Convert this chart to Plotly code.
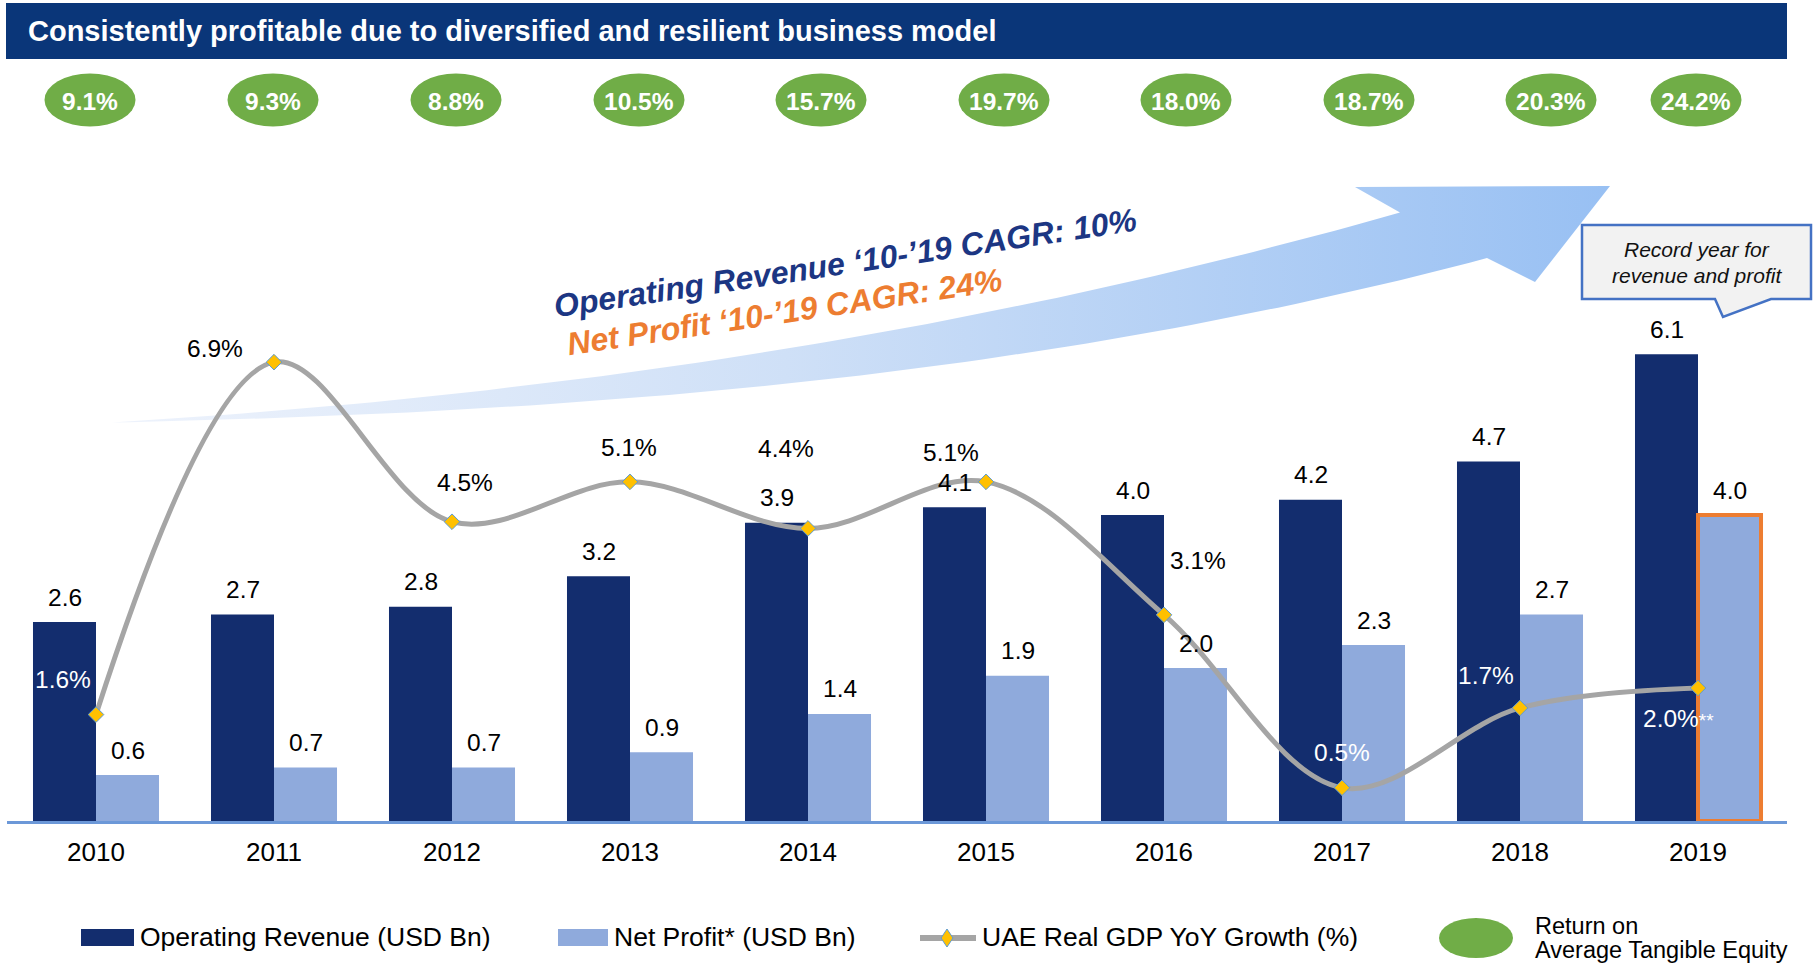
import numpy as np
import plotly.graph_objects as go

# ---------------- data ----------------
years = ["2010", "2011", "2012", "2013", "2014", "2015", "2016", "2017", "2018", "2019"]
operating_revenue = [2.6, 2.7, 2.8, 3.2, 3.9, 4.1, 4.0, 4.2, 4.7, 6.1]
net_profit = [0.6, 0.7, 0.7, 0.9, 1.4, 1.9, 2.0, 2.3, 2.7, 4.0]
uae_gdp_growth = [1.6, 6.9, 4.5, 5.1, 4.4, 5.1, 3.1, 0.5, 1.7, 2.0]
roate = [9.1, 9.3, 8.8, 10.5, 15.7, 19.7, 18.0, 18.7, 20.3, 24.2]

title_text = "Consistently profitable due to diversified and resilient business model"
cagr_revenue_text = "Operating Revenue \u201810-\u201919 CAGR: 10%"
cagr_profit_text = "Net Profit \u201810-\u201919 CAGR: 24%"
callout_lines = ["Record year for", "revenue and profit"]
legend_labels = ["Operating Revenue (USD Bn)", "Net Profit* (USD Bn)",
                 "UAE Real GDP YoY Growth (%)", "Return on", "Average Tangible Equity"]

# ---------------- layout constants (pixels) ----------------
W, H = 1814, 964
PL, PR, PT, PB = 7, 1787, 120, 821          # plot area bounds in page pixels
BAR_PX_PER_UNIT = 76.5
GDP_PX_PER_UNIT = 66.5
FONT = "Liberation Sans, Arial, sans-serif"

NAVY = "#132D6E"
LIGHT = "#8FAADC"
GREEN = "#70AD47"
ORANGE = "#ED7D31"
GRAY = "#A5A5A5"

def px(x):
    return (x - PL) / (PR - PL)

def py(y):
    return (PB - y) / (PB - PT)

# badge centres (pixels) for the ROATE ellipses
badge_x_px = [90, 273, 456, 639, 821, 1004, 1186, 1369, 1551, 1696]
badge_y_px = 100
# GDP label offsets (dx, dy in screen px) and colours
gdp_label_offsets = [(-33, -35), (-59, -14), (13, -39), (-1, -34), (-22, -80),
                     (-35, -29), (34, -54), (0, -35), (-34, -32), (-20, 30)]
gdp_label_white = [True, False, False, False, False, False, False, True, True, True]

fig = go.Figure()

# ---------------- background arrow (base subplot, pixel space) ----------------
up_pts = np.array([(112, 422), (350, 405), (580, 380), (820, 340), (1080, 295), (1300, 240), (1400, 212)])
lo_pts = np.array([(112, 422), (350, 416), (570, 404), (820, 377), (1080, 345), (1300, 305), (1487, 257)])
cu = np.polyfit(up_pts[:, 0], up_pts[:, 1], 3)
cl = np.polyfit(lo_pts[:, 0], lo_pts[:, 1], 3)
xu = np.linspace(112, 1400, 80)
xl = np.linspace(1487, 112, 80)
ax_x = list(xu) + [1355, 1610, 1535] + list(xl)
ax_y = list(np.polyval(cu, xu)) + [187, 186, 282] + list(np.polyval(cl, xl))
fig.add_trace(go.Scatter(
    x=ax_x, y=ax_y, xaxis="x", yaxis="y", mode="lines", fill="toself",
    line=dict(width=0, color="rgba(0,0,0,0)"),
    fillgradient=dict(type="horizontal",
                      colorscale=[[0, "#EEF3FC"], [0.45, "#CFE0F7"], [1, "#98C0F3"]]),
    hoverinfo="skip", showlegend=False))

# ---------------- bars ----------------
fig.add_trace(go.Bar(
    x=years, y=operating_revenue, xaxis="x2", yaxis="y2", name=legend_labels[0],
    marker=dict(color=NAVY, line=dict(width=0)), showlegend=False))
fig.add_trace(go.Bar(
    x=years, y=net_profit, xaxis="x2", yaxis="y2", name=legend_labels[1],
    marker=dict(color=LIGHT,
                line=dict(color=["rgba(0,0,0,0)"] * (len(years) - 1) + [ORANGE],
                          width=[0] * (len(years) - 1) + [4])),
    showlegend=False))

# ---------------- GDP line ----------------
fig.add_trace(go.Scatter(
    x=years, y=uae_gdp_growth, xaxis="x2", yaxis="y3", name=legend_labels[2],
    mode="lines+markers", line=dict(color=GRAY, width=5, shape="spline", smoothing=1.0),
    marker=dict(symbol="diamond", size=12, color="#FFC000", line=dict(color="#5B9BD5", width=1)),
    showlegend=False))

annotations = []
shapes = []

# bar value labels (x given as category index)
for i, v in enumerate(operating_revenue):
    annotations.append(dict(x=i, y=v, xref="x2", yref="y2", text=f"{v:.1f}", showarrow=False,
                            xshift=-31.5, yshift=25, yanchor="middle",
                            font=dict(family=FONT, size=24.5, color="#000000")))
for i, v in enumerate(net_profit):
    annotations.append(dict(x=i, y=v, xref="x2", yref="y2", text=f"{v:.1f}", showarrow=False,
                            xshift=31.5, yshift=25, yanchor="middle",
                            font=dict(family=FONT, size=24.5, color="#000000")))

# GDP labels
for i, v in enumerate(uae_gdp_growth):
    dx, dy = gdp_label_offsets[i]
    txt = f"{v:.1f}%"
    if i == len(years) - 1:
        txt += "<span style='font-size:19px'>**</span>"
    annotations.append(dict(x=i, y=v, xref="x2", yref="y3", text=txt, showarrow=False,
                            xshift=dx, yshift=-dy, yanchor="middle",
                            font=dict(family=FONT, size=24.5,
                                      color="#FFFFFF" if gdp_label_white[i] else "#000000")))

# title bar
shapes.append(dict(type="rect", xref="paper", yref="paper", x0=px(6), x1=px(1787),
                   y0=py(59), y1=py(3), fillcolor="#0A3679", line=dict(width=0), layer="above"))
annotations.append(dict(x=px(26), y=py(31), xref="paper", yref="paper", text=title_text,
                        showarrow=False, xanchor="left", yanchor="middle",
                        font=dict(family=FONT, size=29, color="#FFFFFF", weight="bold")))

# ROATE badges
for cx, v in zip(badge_x_px, roate):
    shapes.append(dict(type="circle", xref="paper", yref="paper",
                       x0=px(cx - 45.5), x1=px(cx + 45.5), y0=py(badge_y_px + 26.5), y1=py(badge_y_px - 26.5),
                       fillcolor=GREEN, line=dict(width=0)))
    annotations.append(dict(x=px(cx), y=py(badge_y_px + 1), xref="paper", yref="paper",
                            text=f"{v:.1f}%", showarrow=False, xanchor="center", yanchor="middle",
                            font=dict(family=FONT, size=24.5, color="#FFFFFF", weight="bold")))

# CAGR texts
annotations.append(dict(x=px(845), y=py(263), xref="paper", yref="paper", text=cagr_revenue_text,
                        showarrow=False, textangle=-8.5, xanchor="center", yanchor="middle",
                        font=dict(family=FONT, size=32, color="#1C3683", weight="bold", style="italic")))
annotations.append(dict(x=px(784), y=py(312), xref="paper", yref="paper", text=cagr_profit_text,
                        showarrow=False, textangle=-8.5, xanchor="center", yanchor="middle",
                        font=dict(family=FONT, size=32, color=ORANGE, weight="bold", style="italic")))

# callout box
cpath = (f"M {px(1582)},{py(225)} L {px(1811)},{py(225)} L {px(1811)},{py(299)} "
         f"L {px(1771)},{py(299)} L {px(1723)},{py(317)} L {px(1715)},{py(299)} "
         f"L {px(1582)},{py(299)} Z")
shapes.append(dict(type="path", xref="paper", yref="paper", path=cpath,
                   fillcolor="#F2F2F2", line=dict(color="#4472C4", width=2.5)))
for k, line in enumerate(callout_lines):
    annotations.append(dict(x=px(1697), y=py(250 + 25 * k), xref="paper", yref="paper", text=line,
                            showarrow=False, xanchor="center", yanchor="middle",
                            font=dict(family=FONT, size=21, color="#111111", style="italic")))

# ---------------- manual legend ----------------
LEG_Y = 937
shapes.append(dict(type="rect", xref="paper", yref="paper", x0=px(81), x1=px(134),
                   y0=py(946), y1=py(929), fillcolor=NAVY, line=dict(width=0)))
annotations.append(dict(x=px(138), y=py(LEG_Y), xref="paper", yref="paper", text=legend_labels[0],
                        showarrow=False, xanchor="left", yanchor="middle",
                        font=dict(family=FONT, size=26.5, color="#000000")))
shapes.append(dict(type="rect", xref="paper", yref="paper", x0=px(558), x1=px(608),
                   y0=py(946), y1=py(929), fillcolor=LIGHT, line=dict(width=0)))
annotations.append(dict(x=px(612), y=py(LEG_Y), xref="paper", yref="paper", text=legend_labels[1],
                        showarrow=False, xanchor="left", yanchor="middle",
                        font=dict(family=FONT, size=26.5, color="#000000")))
shapes.append(dict(type="line", xref="paper", yref="paper", x0=px(920), x1=px(976),
                   y0=py(LEG_Y + 1), y1=py(LEG_Y + 1), line=dict(color=GRAY, width=6)))
dpath = (f"M {px(947)},{py(LEG_Y - 8)} L {px(953)},{py(LEG_Y + 1)} L {px(947)},{py(LEG_Y + 10)} "
         f"L {px(941)},{py(LEG_Y + 1)} Z")
shapes.append(dict(type="path", xref="paper", yref="paper", path=dpath,
                   fillcolor="#FFC000", line=dict(color="#5B9BD5", width=1)))
annotations.append(dict(x=px(980), y=py(LEG_Y), xref="paper", yref="paper", text=legend_labels[2],
                        showarrow=False, xanchor="left", yanchor="middle",
                        font=dict(family=FONT, size=26.5, color="#000000")))
shapes.append(dict(type="circle", xref="paper", yref="paper", x0=px(1439), x1=px(1513),
                   y0=py(958), y1=py(918), fillcolor=GREEN, line=dict(width=0)))
annotations.append(dict(x=px(1533), y=py(926), xref="paper", yref="paper", text=legend_labels[3],
                        showarrow=False, xanchor="left", yanchor="middle",
                        font=dict(family=FONT, size=23.5, color="#000000")))
annotations.append(dict(x=px(1533), y=py(950), xref="paper", yref="paper", text=legend_labels[4],
                        showarrow=False, xanchor="left", yanchor="middle",
                        font=dict(family=FONT, size=23.5, color="#000000")))

plot_h = PB - PT
fig.update_layout(
    width=W, height=H,
    margin=dict(l=PL, r=W - PR, t=PT, b=H - PB, pad=0),
    paper_bgcolor="#FFFFFF", plot_bgcolor="rgba(0,0,0,0)",
    barmode="group", bargap=0.292, bargroupgap=0,
    showlegend=False,
    font=dict(family=FONT),
    xaxis=dict(range=[PL, PR], visible=False, fixedrange=True),
    yaxis=dict(range=[PB, PT], visible=False, fixedrange=True),
    xaxis2=dict(overlaying="x", anchor="y2", type="category", range=[-0.5, len(years) - 0.5],
                showgrid=False, zeroline=False, showline=True, linecolor="#6C98D8", linewidth=2.5,
                ticks="", ticklabelstandoff=6,
                tickfont=dict(family=FONT, size=26, color="#000000")),
    yaxis2=dict(overlaying="y", anchor="x2", range=[0, plot_h / BAR_PX_PER_UNIT], visible=False),
    yaxis3=dict(overlaying="y", anchor="x2", range=[0, plot_h / GDP_PX_PER_UNIT], visible=False),
    shapes=shapes,
    annotations=annotations,
)

fig.write_html("out.html", config={"displayModeBar": False},
               post_script="document.body.style.margin='0px';document.body.style.overflow='hidden';")
